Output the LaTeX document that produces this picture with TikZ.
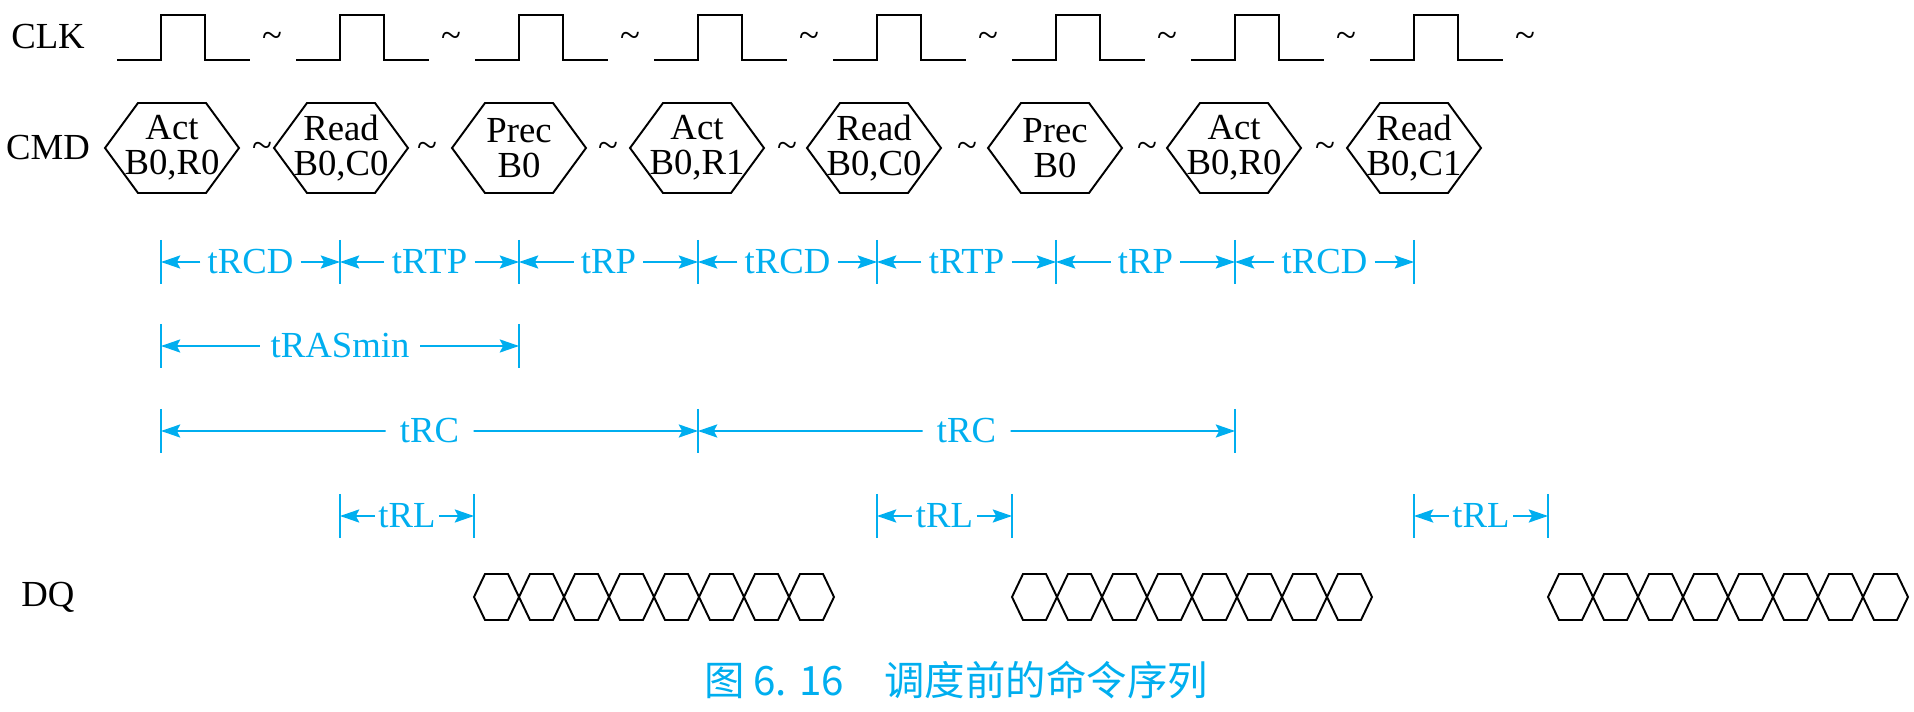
\documentclass[tikz,border=0pt]{standalone}
\usepackage{fontspec}
\setmainfont{Liberation Serif}
\newfontfamily\cjk{Noto Sans CJK SC}
\usetikzlibrary{arrows.meta,calc}
\definecolor{tblue}{RGB}{0,174,239}

\begin{document}
\begin{tikzpicture}[x=0.02cm,y=-0.02cm,
    every node/.style={font=\fontsize{20.9}{19.8}\selectfont,inner sep=0pt},
    sig/.style={line width=1.1pt},
    tmark/.style={tblue,line width=1pt},
    tdim/.style={tblue,line width=1pt,-{Stealth[length=11pt,width=7.5pt,inset=2pt]}},
    tlab/.style={text=tblue,inner xsep=4pt}]
  \useasboundingbox (0,0) rectangle (1914,712);

  % Row names
  \node (clk) at (48,37) {CLK};
  \node (cmd) at (48,148) {CMD};
  \node (dq) at (48,597) {DQ};

  % Clock pulses
  \foreach \r [count=\i] in {161,340,...,1414} {
    \draw[sig] (\r-44,60) -- (\r,60) -- (\r,15) -- (\r+44,15) -- (\r+44,60) -- (\r+89,60);
    \node (ct\i) at (\r+111,40) {\textasciitilde};
  }

  % Commands
  \foreach \x/\t [count=\i] in {172/{Act\\B0,R0},341/{Read\\B0,C0},519/{Prec\\B0},
      697/{Act\\B0,R1},874/{Read\\B0,C0},1055/{Prec\\B0},1234/{Act\\B0,R0},1414/{Read\\B0,C1}} {
    \draw[sig] (\x-67,148) -- (\x-34,103) -- (\x+34,103) -- (\x+67,148)
      -- (\x+34,193) -- (\x-34,193) -- cycle;
    \node[align=center] (c\i) at (\x,148) {\t};
  }
  \foreach \x [count=\i] in {262,427,608,787,967,1147,1325}
    \node (cs\i) at (\x,150) {\textasciitilde};

  % Timing: tRCD / tRTP / tRP
  \foreach \x [count=\i] in {161,340,...,1414} {
    \draw[tmark] (\x,240) -- (\x,284);
    \coordinate (p\i) at (\x,262);
  }
  \foreach \a/\b/\t in {1/2/tRCD,2/3/tRTP,3/4/tRP,4/5/tRCD,5/6/tRTP,6/7/tRP,7/8/tRCD} {
    \node[tlab] (l\a) at ($(p\a)!0.5!(p\b)$) {\t};
    \draw[tdim] (l\a.west) -- (p\a);
    \draw[tdim] (l\a.east) -- (p\b);
  }

  % Timing: tRASmin
  \foreach \x [count=\i] in {161,519} {
    \draw[tmark] (\x,324) -- (\x,368);
    \coordinate (q\i) at (\x,346);
  }
  \node[tlab,inner xsep=6pt] (ras) at ($(q1)!0.5!(q2)$) {tRASmin};
  \draw[tdim] (ras.west) -- (q1);
  \draw[tdim] (ras.east) -- (q2);

  % Timing: tRC
  \foreach \x [count=\i] in {161,698,1235} {
    \draw[tmark] (\x,409) -- (\x,453);
    \coordinate (r\i) at (\x,431);
  }
  \foreach \a/\b in {1/2,2/3} {
    \node[tlab,inner xsep=8pt] (rc\a) at ($(r\a)!0.5!(r\b)$) {tRC};
    \draw[tdim] (rc\a.west) -- (r\a);
    \draw[tdim] (rc\a.east) -- (r\b);
  }

  % Timing: tRL
  \foreach \x/\y [count=\i] in {340/474,877/1012,1414/1548} {
    \draw[tmark] (\x,494) -- (\x,538);
    \draw[tmark] (\y,494) -- (\y,538);
    \coordinate (s\i) at (\x,516);
    \coordinate (e\i) at (\y,516);
    \node[tlab,inner xsep=2pt] (rl\i) at ($(s\i)!0.5!(e\i)$) {tRL};
    \draw[tdim] (rl\i.west) -- (s\i);
    \draw[tdim] (rl\i.east) -- (e\i);
  }

  % Data bursts
  \foreach \s in {474,1012,1548}
    \foreach \k in {0,...,7}
      \draw[sig] (\s+45*\k,597) -- ++(11,-23) -- ++(23,0) -- ++(11,23)
        -- ++(-11,23) -- ++(-23,0) -- cycle;

  % Caption
  \node[text=tblue,font=\cjk\fontsize{23}{26}\selectfont] (cap) at (956,680)
    {图 6. 16\quad 调度前的命令序列};
\end{tikzpicture}
\end{document}
